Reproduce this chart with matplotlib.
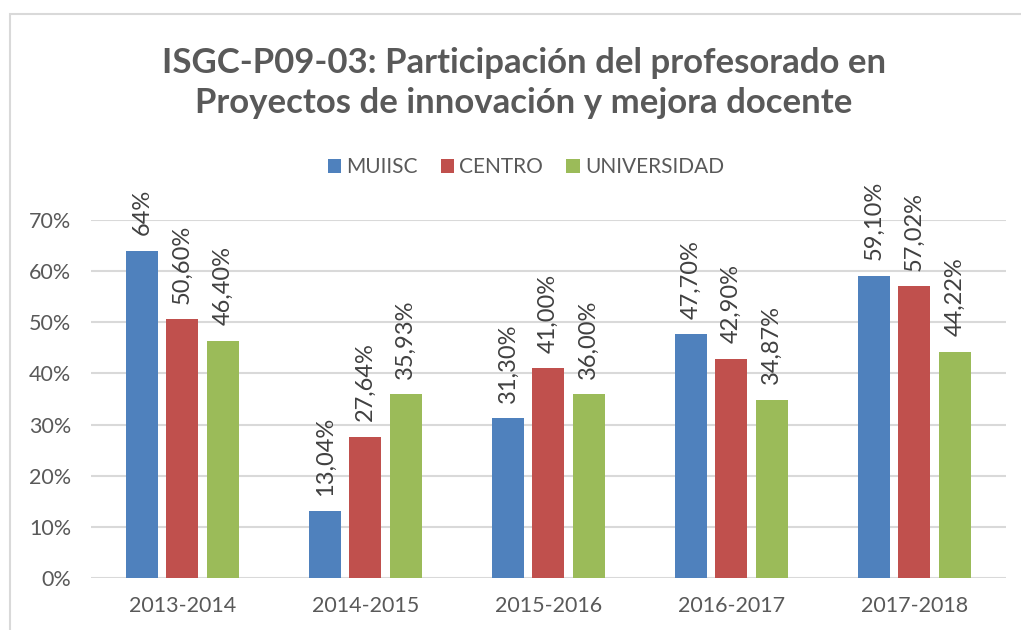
import numpy as np
import matplotlib
matplotlib.use("Agg")
import matplotlib.pyplot as plt
from matplotlib.patches import Rectangle

## chart data
years = ["2013-2014", "2014-2015", "2015-2016", "2016-2017", "2017-2018"]
series_names = ["MUIISC", "CENTRO", "UNIVERSIDAD"]
muiisc = [64.00, 13.04, 31.30, 47.70, 59.10]
centro = [50.60, 27.64, 41.00, 42.90, 57.02]
universidad = [46.40, 35.93, 36.00, 34.87, 44.22]
muiisc_labels = ["64%", "13,04%", "31,30%", "47,70%", "59,10%"]
centro_labels = ["50,60%", "27,64%", "41,00%", "42,90%", "57,02%"]
universidad_labels = ["46,40%", "35,93%", "36,00%", "34,87%", "44,22%"]
y_ticks = [0, 10, 20, 30, 40, 50, 60, 70]

colors = ["#4F81BD", "#C0504D", "#9BBB59"]
text_color = "#595959"

plt.rcParams["font.family"] = ["Lato", "DejaVu Sans"]

fig = plt.figure(figsize=(10.21, 6.30), dpi=100)
ax = fig.add_axes([0.089, 0.0825, 0.896, 0.5685])

## outer chart border (runs off the right and bottom of the picture)
fig.patches.append(Rectangle((10 / 1021, -0.1), 1.2, 1.1 - 14 / 630,
                             transform=fig.transFigure, fill=False,
                             edgecolor="#D9D9D9", linewidth=1.5))

x = np.arange(len(years))
width = 0.175
step = 0.221
all_values = [muiisc, centro, universidad]
all_labels = [muiisc_labels, centro_labels, universidad_labels]

for i, (vals, labels) in enumerate(zip(all_values, all_labels)):
    pos = x + (i - 1) * step
    ax.bar(pos, vals, width, color=colors[i], label=series_names[i], zorder=3)
    for px, v, lab in zip(pos, vals, labels):
        ax.annotate(lab, (px, v), xytext=(0, 11), textcoords="offset points",
                    rotation=90, ha="center", va="bottom",
                    fontsize=17, color="#404040")

ax.set_xlim(-0.5, len(years) - 0.5)
ax.set_ylim(0, 70)
ax.set_yticks(y_ticks)
ax.set_yticklabels([f"{t}%" for t in y_ticks])
ax.set_xticks(x)
ax.set_xticklabels(years)
ax.tick_params(axis="both", length=0, labelsize=15.5, colors=text_color)
ax.tick_params(axis="x", pad=13)
ax.tick_params(axis="y", pad=14)
ax.grid(axis="y", color="#D9D9D9", linewidth=1.5, zorder=0)
for s in ax.spines.values():
    s.set_visible(False)

fig.suptitle("ISGC-P09-03: Participación del profesorado en\nProyectos de innovación y mejora docente",
             x=0.513, y=0.925, fontsize=25, fontweight="bold", color=text_color,
             linespacing=1.3)

fig.legend(loc="center", bbox_to_anchor=(0.515, 0.735), ncol=3, frameon=False,
           fontsize=15, labelcolor=text_color, handlelength=0.65, handleheight=0.65,
           handletextpad=0.25, columnspacing=1.1)

fig.savefig("out.png", dpi=100)
